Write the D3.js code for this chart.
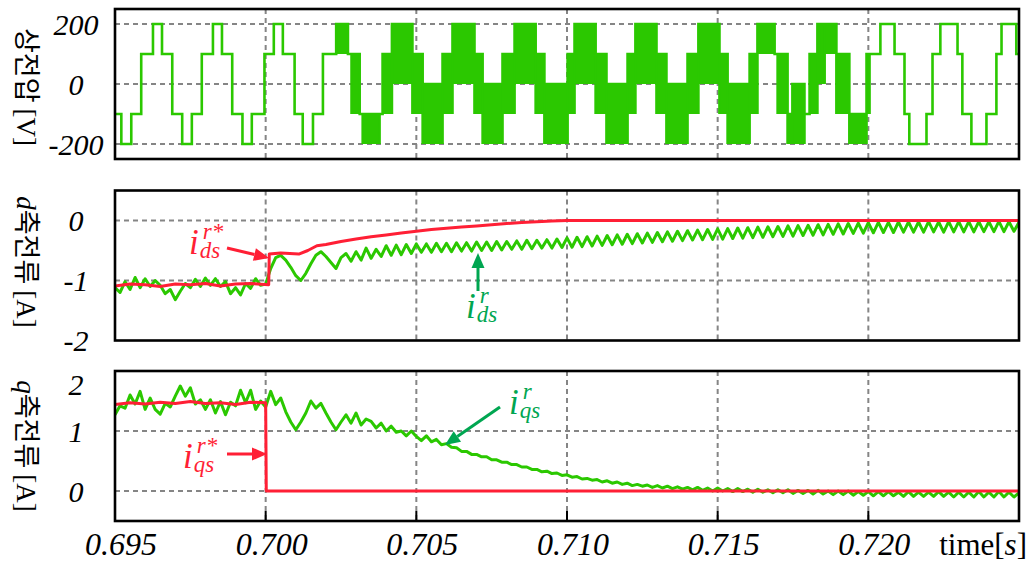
<!DOCTYPE html>
<html>
<head>
<meta charset="utf-8">
<script src="https://cdn.jsdelivr.net/npm/d3@7"></script>
<style>
  body { margin: 0; background: #fff; }
  svg { display: block; }
  .serif { font-family: "Liberation Serif", "DejaVu Serif", serif; }
  .kr { font-family: "Noto Sans CJK KR", sans-serif; }
</style>
</head>
<body>
<svg width="1033" height="566"></svg>
<script>
// ---- data ----
const tDomain = [0.695, 0.725];
const xTicks = [0.695, 0.700, 0.705, 0.710, 0.715, 0.720];
const vTicks = [200, 0, -200];
const dTicks = [0, -1, -2];
const qTicks = [2, 1, 0];

// phase voltage: [t0, t1, low, high]; low == high is a flat step,
// otherwise a band of fast switching between the two levels
const vSegments = [
  [0.69500, 0.69521, -100, -100], [0.69521, 0.69554, -200, -200], [0.69554, 0.69587, -100, -100],
  [0.69587, 0.69626, 100, 100], [0.69626, 0.69656, 200, 200], [0.69656, 0.69690, 100, 100],
  [0.69690, 0.69723, -100, -100], [0.69723, 0.69755, -200, -200], [0.69755, 0.69788, -100, -100],
  [0.69788, 0.69825, 100, 100], [0.69825, 0.69855, 200, 200], [0.69855, 0.69889, 100, 100],
  [0.69889, 0.69923, -100, -100], [0.69923, 0.69954, -200, -200], [0.69954, 0.69996, -100, -100],
  [0.69996, 0.70027, 100, 100], [0.70027, 0.70057, 200, 200], [0.70057, 0.70096, 100, 100],
  [0.70096, 0.70123, -100, -100], [0.70123, 0.70157, -200, -200], [0.70157, 0.70190, -100, -100],
  [0.70190, 0.70234, 100, 100], [0.70234, 0.70273, 100, 200], [0.70273, 0.70285, 100, 100],
  [0.70285, 0.70312, -100, 100], [0.70312, 0.70322, -100, -100], [0.70322, 0.70378, -200, -100],
  [0.70378, 0.70388, -100, -100], [0.70388, 0.70419, -100, 100],
  [0.70419, 0.70487, 0, 200], [0.70487, 0.70521, -100, 100], [0.70521, 0.70587, -200, 0], [0.70587, 0.70620, -100, 100],
  [0.70620, 0.70693, 0, 200], [0.70693, 0.70720, -100, 100], [0.70720, 0.70786, -200, 0], [0.70786, 0.70826, -100, 100],
  [0.70826, 0.70896, 0, 200], [0.70896, 0.70925, -100, 100], [0.70925, 0.71002, -200, 0], [0.71002, 0.71025, -100, 100],
  [0.71025, 0.71095, 0, 200], [0.71095, 0.71131, -100, 100], [0.71131, 0.71201, -200, 0], [0.71201, 0.71227, -100, 100],
  [0.71227, 0.71297, 0, 200], [0.71297, 0.71330, -100, 100], [0.71330, 0.71400, -200, 0], [0.71400, 0.71436, -100, 100],
  [0.71436, 0.71506, 0, 200], [0.71506, 0.71533, -100, 100], [0.71533, 0.71606, -200, 0], [0.71606, 0.71632, -100, 100],
  [0.71632, 0.71689, 100, 200], [0.71689, 0.71699, 100, 100], [0.71699, 0.71732, -100, 100],
  [0.71732, 0.71748, -200, -100], [0.71748, 0.71788, -200, 0], [0.71788, 0.71805, -100, -100], [0.71805, 0.71831, -100, 100],
  [0.71831, 0.71838, 100, 200], [0.71838, 0.71855, 0, 200], [0.71855, 0.71894, 100, 200], [0.71894, 0.71937, -100, 100],
  [0.71937, 0.71994, -200, -100], [0.71994, 0.72004, -100, 100],
  [0.72004, 0.72040, 100, 100], [0.72040, 0.72087, 200, 200], [0.72087, 0.72120, 100, 100],
  [0.72120, 0.72136, -100, -100], [0.72136, 0.72193, -200, -200], [0.72193, 0.72213, -100, -100],
  [0.72213, 0.72239, 100, 100], [0.72239, 0.72296, 200, 200], [0.72296, 0.72312, 100, 100],
  [0.72312, 0.72342, -100, -100], [0.72342, 0.72392, -200, -200], [0.72392, 0.72425, -100, -100],
  [0.72425, 0.72442, 100, 100], [0.72442, 0.72491, 200, 200], [0.72491, 0.72500, 100, 100]
];

// d-axis current reference [t, A]
const idRef = [
  [0.6950, -1.09], [0.6955, -1.06], [0.6960, -1.07], [0.6965, -1.10], [0.6970, -1.06], [0.6975, -1.07],
  [0.6980, -1.05], [0.6985, -1.09], [0.6990, -1.06], [0.6995, -1.05], [0.7001, -1.07], [0.70012, -0.56],
  [0.7005, -0.54], [0.7011, -0.56], [0.7014, -0.50], [0.7017, -0.42], [0.7020, -0.40], [0.7025, -0.35],
  [0.7030, -0.31], [0.7035, -0.27], [0.7040, -0.24], [0.7045, -0.21], [0.7050, -0.18], [0.7055, -0.15],
  [0.7060, -0.13], [0.7065, -0.11], [0.7070, -0.09], [0.7075, -0.07], [0.7080, -0.05], [0.7085, -0.035],
  [0.7090, -0.02], [0.7095, -0.01], [0.7100, 0], [0.7250, 0]
];

// q-axis current reference [t, A]
const iqRef = [
  [0.6950, 1.44], [0.6955, 1.47], [0.6960, 1.45], [0.6965, 1.48], [0.6970, 1.46], [0.6975, 1.49],
  [0.6980, 1.46], [0.6985, 1.47], [0.6990, 1.44], [0.6995, 1.48], [0.70000, 1.47], [0.70002, 0],
  [0.7250, 0]
];

// measured currents, one value every 1/6000 s from 0.695 s
const sampleStart = 0.695;
const sampleStep = 1 / 6000;
const idAct = [
  -1.12, -1.20, -1.02, -1.15, -0.95, -1.12, -0.97, -1.10, -1.00, -1.08,
  -1.22, -1.15, -1.32, -1.18, -1.05, -1.12, -0.98, -1.10, -0.96, -1.08,
  -0.97, -1.10, -1.02, -1.22, -1.12, -1.24, -1.05, -1.13, -0.97, -1.08,
  -1.06, -0.80, -0.62, -0.58, -0.66, -0.78, -0.92, -1.00, -0.88, -0.72,
  -0.58, -0.52, -0.60, -0.70, -0.80, -0.62, -0.55, -0.68, -0.52, -0.66,
  -0.46, -0.63, -0.48, -0.60, -0.42, -0.58, -0.41, -0.57, -0.40, -0.55,
  -0.39, -0.53, -0.39, -0.53, -0.38, -0.52, -0.38, -0.52, -0.37, -0.51,
  -0.37, -0.51, -0.36, -0.50, -0.36, -0.50, -0.35, -0.49, -0.35, -0.48,
  -0.34, -0.48, -0.33, -0.47, -0.33, -0.46, -0.32, -0.46, -0.31, -0.45,
  -0.29, -0.445, -0.28, -0.435, -0.27, -0.425, -0.26, -0.415, -0.25, -0.405,
  -0.24, -0.395, -0.23, -0.385, -0.22, -0.375, -0.21, -0.365, -0.20, -0.355,
  -0.19, -0.345, -0.18, -0.335, -0.17, -0.325, -0.16, -0.32, -0.15, -0.315,
  -0.14, -0.31, -0.135, -0.30, -0.125, -0.295, -0.12, -0.285, -0.11, -0.28,
  -0.105, -0.27, -0.10, -0.265, -0.09, -0.26, -0.085, -0.25, -0.08, -0.245,
  -0.07, -0.24, -0.065, -0.23, -0.055, -0.225, -0.05, -0.215, -0.045, -0.21,
  -0.035, -0.205, -0.03, -0.20, -0.03, -0.20, -0.025, -0.195, -0.025, -0.195,
  -0.025, -0.195, -0.02, -0.19, -0.025, -0.195, -0.02, -0.19, -0.02, -0.19,
  -0.02, -0.19, -0.02, -0.185, -0.02, -0.185, -0.015, -0.185, -0.02, -0.18,
  -0.03
];
const iqAct = [
  1.27, 1.42, 1.38, 1.60, 1.45, 1.66, 1.36, 1.55, 1.36, 1.28,
  1.46, 1.40, 1.58, 1.75, 1.58, 1.72, 1.45, 1.52, 1.36, 1.52,
  1.30, 1.49, 1.27, 1.48, 1.42, 1.68, 1.47, 1.68, 1.36, 1.50,
  1.40, 1.66, 1.44, 1.55, 1.32, 1.15, 1.02, 1.15, 1.30, 1.50,
  1.38, 1.46, 1.30, 1.15, 1.02, 1.15, 1.27, 1.13, 1.30, 1.10,
  1.20, 1.16, 1.05, 1.13, 1.00, 1.08, 0.98, 1.00, 0.92, 1.00,
  0.91, 0.84, 0.92, 0.82, 0.86, 0.77, 0.79, 0.73, 0.72, 0.66,
  0.66, 0.61, 0.61, 0.57, 0.57, 0.52, 0.52, 0.48, 0.48, 0.44,
  0.44, 0.40, 0.40, 0.36, 0.36, 0.32, 0.33, 0.29, 0.30, 0.26,
  0.27, 0.23, 0.24, 0.20, 0.21, 0.18, 0.19, 0.15, 0.17, 0.13,
  0.15, 0.11, 0.13, 0.09, 0.11, 0.08, 0.10, 0.06, 0.09, 0.05,
  0.08, 0.04, 0.07, 0.03, 0.06, 0.02, 0.06, 0.01, 0.05, 0.00,
  0.05, 0.00, 0.04, -0.01, 0.04, -0.01, 0.03, -0.02, 0.03, -0.02,
  0.02, -0.03, 0.02, -0.03, 0.02, -0.04, 0.01, -0.04, 0.01, -0.05,
  0.01, -0.05, 0.00, -0.06, 0.00, -0.06, 0.00, -0.07, -0.01, -0.07,
  -0.01, -0.08, -0.01, -0.08, -0.01, -0.08, -0.02, -0.09, -0.01, -0.09,
  -0.02, -0.09, -0.02, -0.09, -0.01, -0.09, -0.02, -0.10, -0.02, -0.10,
  -0.02, -0.10, -0.01, -0.10, -0.02, -0.10, -0.01, -0.10, -0.02, -0.10,
  -0.03
];

// ---- drawing ----
const svg = d3.select("svg");
const width = +svg.attr("width");
const height = +svg.attr("height");

const green = "#2bc800";
const red = "#ff1f35";
const noteGreen = "#00a651";
const gridGray = "#858585";

const left = 115, right = 1019;
const x = d3.scaleLinear().domain(tDomain).range([left, right]);

const panels = [
  { top: 9, bottom: 159, domain: [-250, 250], ticks: vTicks },
  { top: 190.5, bottom: 340.5, domain: [-2, 0.5], ticks: dTicks },
  { top: 371, bottom: 521, domain: [-0.5, 2], ticks: qTicks }
];

const sampled = vals => vals.map((v, i) => [sampleStart + i * sampleStep, v]);

panels.forEach((p, k) => {
  p.y = d3.scaleLinear().domain(p.domain).range([p.bottom, p.top]);
  const g = svg.append('g');

  g.append('clipPath').attr('id', `clip${k}`)
    .append('rect')
    .attr('x', left).attr('y', p.top)
    .attr('width', right - left).attr('height', p.bottom - p.top);

  // dashed grid
  g.selectAll('.vgrid').data(xTicks.filter(t => t > tDomain[0])).enter()
    .append('line')
    .attr('x1', d => x(d)).attr('x2', d => x(d))
    .attr('y1', p.top).attr('y2', p.bottom)
    .attr('stroke', gridGray).attr('stroke-width', 2).attr('stroke-dasharray', '5,4');

  g.selectAll('.hgrid').data(p.ticks.filter(v => v > p.domain[0] && v < p.domain[1])).enter()
    .append('line')
    .attr('x1', left).attr('x2', right)
    .attr('y1', d => p.y(d)).attr('y2', d => p.y(d))
    .attr('stroke', gridGray).attr('stroke-width', 2).attr('stroke-dasharray', '5,4');

  // y tick labels
  g.selectAll('.ylab').data(p.ticks).enter()
    .append('text')
    .attr('class', 'serif')
    .attr('x', 76)
    .attr('y', d => Math.min(Math.max(p.y(d), p.top + 13), p.bottom + 5))
    .attr('dy', '0.35em')
    .attr('text-anchor', 'middle')
    .style('font-style', 'italic').style('font-size', '30px')
    .text(d => d);

  p.plot = g.append('g').attr('clip-path', `url(#clip${k})`);
  p.g = g;
});

// panel 1: phase voltage
{
  const p = panels[0];
  const pts = [];
  vSegments.forEach(([t0, t1, lo, hi]) => {
    if (lo === hi) pts.push([t0, lo], [t1, lo]);
    else pts.push([t0, lo], [t0, hi], [t1, hi], [t1, lo]);
  });
  p.plot.selectAll('rect.band').data(vSegments.filter(s => s[2] !== s[3])).enter()
    .append('rect').attr('class', 'band')
    .attr('x', d => x(d[0])).attr('width', d => x(d[1]) - x(d[0]))
    .attr('y', d => p.y(d[3])).attr('height', d => p.y(d[2]) - p.y(d[3]))
    .attr('fill', green);
  p.plot.append('path')
    .attr('d', d3.line().x(d => x(d[0])).y(d => p.y(d[1]))(pts))
    .attr('fill', 'none').attr('stroke', green).attr('stroke-width', 2.6)
    .attr('stroke-linejoin', 'miter');
}

// panels 2 and 3: currents
[[panels[1], idAct, idRef], [panels[2], iqAct, iqRef]].forEach(([p, act, ref]) => {
  const line = d3.line().x(d => x(d[0])).y(d => p.y(d[1]));
  p.plot.append('path').attr('d', line(sampled(act)))
    .attr('fill', 'none').attr('stroke', green).attr('stroke-width', 3).attr('stroke-linejoin', 'round');
  p.plot.append('path').attr('d', line(ref))
    .attr('fill', 'none').attr('stroke', red).attr('stroke-width', 3).attr('stroke-linejoin', 'round');
});

// bottom ticks on the last panel
{
  const p = panels[2];
  p.g.selectAll('.tick').data(xTicks.filter(t => t > tDomain[0])).enter()
    .append('line')
    .attr('x1', d => x(d)).attr('x2', d => x(d))
    .attr('y1', p.bottom - 10).attr('y2', p.bottom)
    .attr('stroke', '#000').attr('stroke-width', 2);
}

// frames
panels.forEach(p => {
  p.g.append('rect')
    .attr('x', left).attr('y', p.top)
    .attr('width', right - left).attr('height', p.bottom - p.top)
    .attr('fill', 'none').attr('stroke', '#000').attr('stroke-width', 2.6);
});

// x tick labels
svg.selectAll('.xlab').data(xTicks).enter()
  .append('text')
  .attr('class', 'serif')
  .attr('x', d => x(d) + 6).attr('y', 555)
  .attr('text-anchor', 'middle')
  .style('font-style', 'italic').style('font-size', '32px')
  .text(d => d.toFixed(3));

const timeLab = svg.append('text')
  .attr('class', 'serif')
  .attr('x', 1027).attr('y', 555)
  .attr('text-anchor', 'end')
  .style('font-size', '31px');
timeLab.append('tspan').text('time[');
timeLab.append('tspan').style('font-style', 'italic').text('s');
timeLab.append('tspan').text(']');

// rotated y titles
const titles = [
  { cy: 87, parts: [['상전압 ', 'kr', 'normal'], ['[V]', 'serif', 'normal']] },
  { cy: 262, parts: [['d', 'serif', 'italic'], ['축전류 ', 'kr', 'normal'], ['[A]', 'serif', 'normal']] },
  { cy: 446, parts: [['q', 'serif', 'italic'], ['축전류 ', 'kr', 'normal'], ['[A]', 'serif', 'normal']] }
];
titles.forEach(tt => {
  const t = svg.append('text')
    .attr('transform', `translate(17,${tt.cy}) rotate(90)`)
    .attr('text-anchor', 'middle')
    .style('font-size', '27px');
  tt.parts.forEach(([s, cls, st]) => {
    t.append('tspan').attr('class', cls).style('font-style', st).text(s);
  });
});

// annotations
const arrow = (x1, y1, x2, y2, color) => {
  const a = Math.atan2(y2 - y1, x2 - x1);
  const L = 15, W = 6.5;
  const bx = x2 - L * Math.cos(a), by = y2 - L * Math.sin(a);
  svg.append('line')
    .attr('x1', x1).attr('y1', y1).attr('x2', bx).attr('y2', by)
    .attr('stroke', color).attr('stroke-width', 3);
  svg.append('polygon')
    .attr('points', [
      [x2, y2],
      [bx + W * Math.sin(a), by - W * Math.cos(a)],
      [bx - W * Math.sin(a), by + W * Math.cos(a)]
    ].map(p => p.join(',')).join(' '))
    .attr('fill', color);
};

// i with a subscript and a superscript stacked over it, as one text
const symbol = (xi, yi, sub, sup, color) => {
  const t = svg.append('text').attr('class', 'serif')
    .attr('x', xi).attr('y', yi)
    .attr('fill', color).style('font-style', 'italic').style('font-size', '35px');
  t.append('tspan').text('i');
  const s = t.append('tspan').attr('dx', 1).attr('dy', 4).style('font-size', '23px').text(sub);
  const w = s.node().getComputedTextLength();
  t.append('tspan').attr('dx', -w + 3).attr('dy', -19).style('font-size', '23px').text(sup);
};

symbol(189, 254, 'ds', 'r*', red);
arrow(227, 248, 269, 258, red);

symbol(466, 318, 'ds', 'r', noteGreen);
arrow(478, 291, 478, 253, noteGreen);

symbol(183, 468, 'qs', 'r*', red);
arrow(227, 454, 267, 454, red);

symbol(509, 414, 'qs', 'r', noteGreen);
arrow(500, 407, 445, 445, noteGreen);
</script>
</body>
</html>
